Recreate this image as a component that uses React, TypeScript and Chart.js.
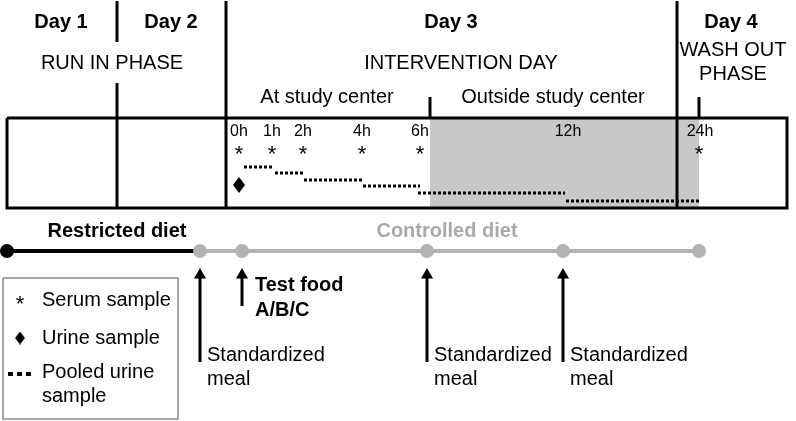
import React, { useEffect, useRef } from "react";
import { Chart, registerables } from "chart.js";

Chart.register(...registerables);

// ---- schematic timeline (diagram x units) ----
const HOUR_LABELS = ["0h", "1h", "2h", "4h", "6h", "12h", "24h"];
const HOUR_X = [239, 272, 303, 362, 420, 568, 699];
const SERUM_X = [239, 272, 303, 362, 420, 699];
const URINE_X = [239];

// pooled urine collection intervals (start, end) and their step levels
const POOLED_FROM = [244, 275, 304, 363, 418, 566];
const POOLED_TO = [273, 303, 362, 420, 565, 699];
const POOLED_LEVEL = [167, 173, 180, 186, 193, 201];

// day borders and phase boundaries
const DAY_BORDERS = [117, 226, 677];
const SITE_TICKS = [430, 699];
const OUTSIDE_FROM = 430;
const OUTSIDE_TO = 699;

// diet timeline
const RESTRICTED_X = [7, 200];
const CONTROLLED_X = [200, 242, 427, 563, 699];
const MEAL_ARROWS_X = [200, 427, 563];
const TEST_FOOD_X = 242;

const DAY_LABELS = ["Day 1", "Day 2", "Day 3", "Day 4"];
const DAY_LABEL_X = [61, 171, 451, 731];

const FONT = '"Liberation Sans", Arial, Helvetica, sans-serif';

function makeAsterisk(size: number): HTMLCanvasElement {
  const c = document.createElement("canvas");
  c.width = 14;
  c.height = 14;
  const ctx = c.getContext("2d")!;
  ctx.fillStyle = "#000";
  ctx.font = `${size}px ${FONT}`;
  ctx.textAlign = "center";
  ctx.textBaseline = "alphabetic";
  const m = ctx.measureText("*");
  const asc = m.actualBoundingBoxAscent || size * 0.72;
  const desc = m.actualBoundingBoxDescent || -size * 0.42;
  ctx.fillText("*", 7, 7 + (asc - desc) / 2);
  return c;
}

function makeDiamond(w: number, h: number): HTMLCanvasElement {
  const c = document.createElement("canvas");
  c.width = w;
  c.height = h;
  const ctx = c.getContext("2d")!;
  ctx.fillStyle = "#000";
  ctx.beginPath();
  ctx.moveTo(w / 2, 0);
  ctx.lineTo(w, h / 2);
  ctx.lineTo(w / 2, h);
  ctx.lineTo(0, h / 2);
  ctx.closePath();
  ctx.fill();
  return c;
}

type Txt = { t: string; x: number; y: number; bold?: boolean; size?: number; align?: CanvasTextAlign; color?: string };

const TEXTS: Txt[] = [
  ...DAY_LABELS.map((t, i) => ({ t, x: DAY_LABEL_X[i], y: 22, bold: true })),
  { t: "RUN IN PHASE", x: 112, y: 63 },
  { t: "INTERVENTION DAY", x: 461, y: 63 },
  { t: "WASH OUT", x: 733, y: 50 },
  { t: "PHASE", x: 733, y: 74 },
  { t: "At study center", x: 327, y: 97 },
  { t: "Outside study center", x: 553, y: 97 },
  ...HOUR_LABELS.map((t, i) => ({ t, x: HOUR_X[i] + (t === "24h" ? 1 : 0), y: 132, size: 16 })),
  { t: "Restricted diet", x: 117, y: 231, bold: true },
  { t: "Controlled diet", x: 447, y: 231, bold: true, color: "#a9a9a9" },
  { t: "Test food", x: 255, y: 285, bold: true, align: "left" },
  { t: "A/B/C", x: 255, y: 310, bold: true, align: "left" },
  ...MEAL_ARROWS_X.flatMap((x) => [
    { t: "Standardized", x: x + 7, y: 355, align: "left" as CanvasTextAlign },
    { t: "meal", x: x + 7, y: 379, align: "left" as CanvasTextAlign },
  ]),
  { t: "Serum sample", x: 42, y: 300, align: "left" },
  { t: "Urine sample", x: 42, y: 338, align: "left" },
  { t: "Pooled urine", x: 42, y: 372, align: "left" },
  { t: "sample", x: 42, y: 396, align: "left" },
];

const textPlugin = {
  id: "diagramText",
  afterDatasetsDraw(chart: any) {
    const { ctx, scales } = chart;
    ctx.save();
    ctx.textBaseline = "middle";
    for (const item of TEXTS) {
      ctx.font = `${item.bold ? "bold " : ""}${item.size || 20}px ${FONT}`;
      ctx.fillStyle = item.color || "#000";
      ctx.textAlign = item.align || "center";
      ctx.fillText(item.t, scales.x.getPixelForValue(item.x), scales.y.getPixelForValue(item.y));
    }
    ctx.restore();
  },
};

function seg(x1: number, y1: number, x2: number, y2: number) {
  return [
    { x: x1, y: y1 },
    { x: x2, y: y2 },
  ];
}

export default function App() {
  const ref = useRef<HTMLCanvasElement>(null);

  useEffect(() => {
    if (!ref.current) return;
    const star = makeAsterisk(22);
    const diamond = makeDiamond(12, 16);
    const legendDiamond = makeDiamond(10, 13);

    const lineDs = (data: any[], color: string, width: number, extra: any = {}) => ({
      data,
      showLine: true,
      borderColor: color,
      backgroundColor: color,
      borderWidth: width,
      pointRadius: 0,
      spanGaps: false,
      fill: false,
      order: 1,
      ...extra,
    });

    const datasets: any[] = [];

    // outside-study-center shading (drawn first, behind everything)
    datasets.push(
      lineDs(seg(OUTSIDE_FROM, 118, OUTSIDE_TO, 118), "#c8c8c8", 0, {
        fill: { value: 208 },
        backgroundColor: "#c8c8c8",
        order: 100,
      })
    );

    // pooled urine (dotted steps)
    POOLED_FROM.forEach((x, i) => {
      datasets.push(
        lineDs(seg(x, POOLED_LEVEL[i], POOLED_TO[i], POOLED_LEVEL[i]), "#000", 3, {
          borderDash: [3, 2],
          borderCapStyle: "butt",
        })
      );
    });

    // frame
    datasets.push(
      lineDs(
        [
          { x: 7, y: 118 },
          { x: 787, y: 118 },
          { x: 787, y: 208 },
          { x: 7, y: 208 },
          { x: 7, y: 118 },
        ],
        "#000",
        3,
        { borderJoinStyle: "miter" }
      )
    );

    // day borders
    datasets.push(
      lineDs(
        [
          { x: DAY_BORDERS[0], y: 1 },
          { x: DAY_BORDERS[0], y: 42 },
          { x: DAY_BORDERS[0], y: null },
          { x: DAY_BORDERS[0], y: 83 },
          { x: DAY_BORDERS[0], y: 208 },
        ],
        "#000",
        3
      )
    );
    DAY_BORDERS.slice(1).forEach((x) => datasets.push(lineDs(seg(x, 1, x, 208), "#000", 3)));
    SITE_TICKS.forEach((x) => datasets.push(lineDs(seg(x, 97, x, 118), "#000", 3)));

    // serum samples
    datasets.push({
      data: SERUM_X.map((x) => ({ x, y: 150 })),
      pointStyle: star,
      pointRadius: 6,
      showLine: false,
      order: 0,
    });
    // urine sample
    datasets.push({
      data: URINE_X.map((x) => ({ x, y: 185 })),
      pointStyle: diamond,
      pointRadius: 6,
      showLine: false,
      order: 0,
    });

    // restricted diet
    datasets.push(
      lineDs(RESTRICTED_X.map((x) => ({ x, y: 251 })), "#000", 4, {
        pointRadius: [7, 0],
        pointBackgroundColor: "#000",
        pointBorderWidth: 0,
        order: 2,
      })
    );
    // controlled diet
    datasets.push(
      lineDs(CONTROLLED_X.map((x) => ({ x, y: 251 })), "#b3b3b3", 4, {
        pointRadius: 7,
        pointBackgroundColor: "#b3b3b3",
        pointBorderWidth: 0,
      })
    );

    // arrows
    const arrow = (x: number, from: number) =>
      lineDs(seg(x, from, x, 275), "#000", 3, {
        pointStyle: "triangle",
        pointRadius: [0, 7],
        pointBorderWidth: 0,
      });
    MEAL_ARROWS_X.forEach((x) => datasets.push(arrow(x, 362)));
    datasets.push(arrow(TEST_FOOD_X, 306));

    // legend box
    datasets.push(
      lineDs(
        [
          { x: 3, y: 278 },
          { x: 178, y: 278 },
          { x: 178, y: 419 },
          { x: 3, y: 419 },
          { x: 3, y: 278 },
        ],
        "#8a8a8a",
        1.5,
        { borderJoinStyle: "miter" }
      )
    );
    datasets.push({ data: [{ x: 20, y: 300 }], pointStyle: star, pointRadius: 6, showLine: false, order: 0 });
    datasets.push({ data: [{ x: 20, y: 338 }], pointStyle: legendDiamond, pointRadius: 6, showLine: false, order: 0 });
    datasets.push(lineDs(seg(8, 374, 31, 374), "#000", 4, { borderDash: [5, 4], borderCapStyle: "butt" }));

    const chart = new Chart(ref.current, {
      type: "scatter",
      data: { datasets },
      options: {
        animation: false,
        responsive: false,
        devicePixelRatio: 1,
        events: [],
        layout: { padding: 0, autoPadding: false },
        plugins: { legend: { display: false }, tooltip: { enabled: false } },
        scales: {
          x: { type: "linear", min: 0, max: 796, display: false },
          y: { type: "linear", min: 0, max: 421, reverse: true, display: false },
        },
      },
      plugins: [textPlugin],
    });
    return () => chart.destroy();
  }, []);

  return (
    <div style={{ position: "absolute", left: 0, top: 0, width: 796, height: 421, background: "#fff" }}>
      <canvas ref={ref} width={796} height={421} />
    </div>
  );
}
